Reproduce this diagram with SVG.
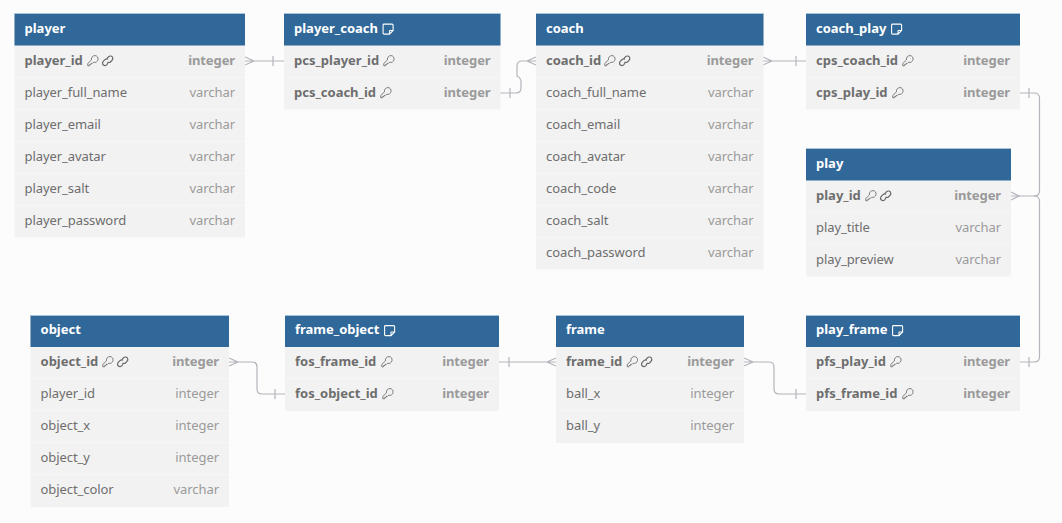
<svg xmlns="http://www.w3.org/2000/svg" xmlns:xlink="http://www.w3.org/1999/xlink" width="1062" height="523" viewBox="0 0 1062 523">
<style>
text{font-family:"Noto Sans","Open Sans","Liberation Sans",sans-serif;font-size:13px}
.body{fill:#f2f2f2}
.head{fill:#31689a}
.top{fill:none;stroke:#a9c2da;stroke-width:1}
.sep{stroke:#f6f6f6;stroke-width:1}
.title{fill:#fff;font-weight:700}
.pk{fill:#6e6e6e;font-weight:700}
.f{fill:#6e6e6e;letter-spacing:-.07px}
.tb{fill:#9a9a9a;font-weight:700;text-anchor:end;letter-spacing:-.1px}
.t{fill:#9a9a9a;text-anchor:end;letter-spacing:-.05px}
.c{fill:none;stroke:#b4b4bc;stroke-width:1.2}
.i{fill:none;stroke:#707070;stroke-width:.9}
.l{fill:none;stroke:#666;stroke-width:1.2}
.n{fill:none;stroke:#fff;stroke-width:1.1}
</style>
<defs>
<g id="key"><path class="i" d="M.8 10.8 L.8 8.4 L4.4 5 C4 2.2 6 .5 8 .6 C10.2 .7 11.4 2.6 11 4.6 C10.6 6.6 8.6 8 6.6 7.2 L5.4 8.4 L4 8.4 L4 9.6 L2.6 9.6 L2.4 10.8 Z"/></g>
<g id="link"><path class="l" d="M4.8 3.6 L6.4 1.8 C7.6 .6 9.6 .8 10.4 2 C11.2 3.2 10.8 4.6 10 5.4 L8.4 7 C7.4 7.8 6.2 7.6 5.6 6.8 M6 4.2 C5 3.6 3.8 3.8 3 4.6 L1.2 6.4 C.2 7.6 .4 9.2 1.4 10 C2.4 10.8 3.8 10.6 4.6 9.8 L6 8.2"/></g>
<g id="note"><path class="n" d="M1.5 .6 H9.5 Q10.6 .6 10.6 1.7 V7 L7 10.6 H1.7 Q.6 10.6 .6 9.5 V1.5 Q.6 .6 1.5 .6 Z M10.4 7 H7.6 Q7 7 7 7.6 V10.4"/></g>
</defs>
<rect width="1062" height="523" fill="#fcfcfc"/>
<g id="connectors">
<path class="c" d="M245 57 L254 61 L245 65 M245 61 H284 M273 56 V66"/>
<path class="c" d="M500 93 H516 Q521 93 521 88 V82 Q521 78 517 76 V66 Q517 61 522 61 H536 M510 88 V98 M536 57 L527 61 L536 65"/>
<path class="c" d="M763 57 L772 61 L763 65 M763 61 H806 M796 56 V66"/>
<path class="c" d="M1020 93 H1034 Q1039.500 93 1039.500 98 V191 Q1039.500 196 1034 196 H1011 M1029 88 V98"/>
<path class="c" d="M1011 192 L1019 196 L1011 200"/>
<path class="c" d="M1020 362 H1034 Q1039.500 362 1039.500 357 V201 Q1039.500 196 1034 196 M1029 357 V367"/>
<path class="c" d="M744 358 L753 362 L744 366 M744 362 H769 Q774 362 774 367 V389 Q774 394 779 394 H806 M796 389 V399"/>
<path class="c" d="M499 362 H556 M509 357 V367 M556 358 L547 362 L556 366"/>
<path class="c" d="M229 358 L238 362 L229 366 M229 362 H252 Q257 362 257 367 V389 Q257 394 262 394 H285 M275 389 V399"/>
</g>
<g id="player">
<rect class="body" x="14.500" y="13.500" width="230.500" height="224"/>
<rect class="head" x="14.500" y="13.500" width="230.500" height="32"/>
<path class="top" d="M14.500 13.500 H245"/>
<path class="sep" d="M14.500 77.500 H245 M14.500 109.500 H245 M14.500 141.500 H245 M14.500 173.500 H245 M14.500 205.500 H245"/>
<text class="title" x="24.500" y="33">player</text>
<text class="pk" x="24.500" y="65">player_id</text><use href="#key" x="87" y="55"/><use href="#link" x="102" y="55"/><text class="tb" x="235" y="65">integer</text>
<text class="f" x="24.500" y="97">player_full_name</text><text class="t" x="235" y="97">varchar</text>
<text class="f" x="24.500" y="129">player_email</text><text class="t" x="235" y="129">varchar</text>
<text class="f" x="24.500" y="161">player_avatar</text><text class="t" x="235" y="161">varchar</text>
<text class="f" x="24.500" y="193">player_salt</text><text class="t" x="235" y="193">varchar</text>
<text class="f" x="24.500" y="225">player_password</text><text class="t" x="235" y="225">varchar</text>
</g>
<g id="player_coach">
<rect class="body" x="284" y="13.500" width="216.500" height="96"/>
<rect class="head" x="284" y="13.500" width="216.500" height="32"/>
<path class="top" d="M284 13.500 H500.500"/>
<path class="sep" d="M284 77.500 H500.500"/>
<text class="title" x="294" y="33">player_coach</text><use href="#note" x="382.500" y="23.500"/>
<text class="pk" x="294" y="65">pcs_player_id</text><use href="#key" x="383" y="55"/><text class="tb" x="490.500" y="65">integer</text>
<text class="pk" x="294" y="97">pcs_coach_id</text><use href="#key" x="380" y="87"/><text class="tb" x="490.500" y="97">integer</text>
</g>
<g id="coach">
<rect class="body" x="536" y="13.500" width="227.500" height="256"/>
<rect class="head" x="536" y="13.500" width="227.500" height="32"/>
<path class="top" d="M536 13.500 H763.500"/>
<path class="sep" d="M536 77.500 H763.500 M536 109.500 H763.500 M536 141.500 H763.500 M536 173.500 H763.500 M536 205.500 H763.500 M536 237.500 H763.500"/>
<text class="title" x="546" y="33">coach</text>
<text class="pk" x="546" y="65">coach_id</text><use href="#key" x="604" y="55"/><use href="#link" x="619" y="55"/><text class="tb" x="753.500" y="65">integer</text>
<text class="f" x="546" y="97">coach_full_name</text><text class="t" x="753.500" y="97">varchar</text>
<text class="f" x="546" y="129">coach_email</text><text class="t" x="753.500" y="129">varchar</text>
<text class="f" x="546" y="161">coach_avatar</text><text class="t" x="753.500" y="161">varchar</text>
<text class="f" x="546" y="193">coach_code</text><text class="t" x="753.500" y="193">varchar</text>
<text class="f" x="546" y="225">coach_salt</text><text class="t" x="753.500" y="225">varchar</text>
<text class="f" x="546" y="257">coach_password</text><text class="t" x="753.500" y="257">varchar</text>
</g>
<g id="coach_play">
<rect class="body" x="806" y="13.500" width="214" height="96"/>
<rect class="head" x="806" y="13.500" width="214" height="32"/>
<path class="top" d="M806 13.500 H1020"/>
<path class="sep" d="M806 77.500 H1020"/>
<text class="title" x="816" y="33">coach_play</text><use href="#note" x="891" y="23.500"/>
<text class="pk" x="816" y="65">cps_coach_id</text><use href="#key" x="902" y="55"/><text class="tb" x="1010" y="65">integer</text>
<text class="pk" x="816" y="97">cps_play_id</text><use href="#key" x="892" y="87"/><text class="tb" x="1010" y="97">integer</text>
</g>
<g id="play">
<rect class="body" x="806" y="148.500" width="205" height="128"/>
<rect class="head" x="806" y="148.500" width="205" height="32"/>
<path class="top" d="M806 148.500 H1011"/>
<path class="sep" d="M806 212.500 H1011 M806 244.500 H1011"/>
<text class="title" x="816" y="168">play</text>
<text class="pk" x="816" y="200">play_id</text><use href="#key" x="865" y="190"/><use href="#link" x="880" y="190"/><text class="tb" x="1001" y="200">integer</text>
<text class="f" x="816" y="232">play_title</text><text class="t" x="1001" y="232">varchar</text>
<text class="f" x="816" y="264">play_preview</text><text class="t" x="1001" y="264">varchar</text>
</g>
<g id="object">
<rect class="body" x="30.500" y="315" width="198.500" height="192"/>
<rect class="head" x="30.500" y="315" width="198.500" height="32"/>
<path class="top" d="M30.500 315.500 H229"/>
<path class="sep" d="M30.500 378.500 H229 M30.500 410.500 H229 M30.500 442.500 H229 M30.500 474.500 H229"/>
<text class="title" x="40.500" y="334">object</text>
<text class="pk" x="40.500" y="366">object_id</text><use href="#key" x="102" y="356"/><use href="#link" x="117" y="356"/><text class="tb" x="219" y="366">integer</text>
<text class="f" x="40.500" y="398">player_id</text><text class="t" x="219" y="398">integer</text>
<text class="f" x="40.500" y="430">object_x</text><text class="t" x="219" y="430">integer</text>
<text class="f" x="40.500" y="462">object_y</text><text class="t" x="219" y="462">integer</text>
<text class="f" x="40.500" y="494">object_color</text><text class="t" x="219" y="494">varchar</text>
</g>
<g id="frame_object">
<rect class="body" x="285" y="315" width="214" height="96"/>
<rect class="head" x="285" y="315" width="214" height="32"/>
<path class="top" d="M285 315.500 H499"/>
<path class="sep" d="M285 378.500 H499"/>
<text class="title" x="295" y="334">frame_object</text><use href="#note" x="384" y="325"/>
<text class="pk" x="295" y="366">fos_frame_id</text><use href="#key" x="381" y="356"/><text class="tb" x="489" y="366">integer</text>
<text class="pk" x="295" y="398">fos_object_id</text><use href="#key" x="382" y="388"/><text class="tb" x="489" y="398">integer</text>
</g>
<g id="frame">
<rect class="body" x="556" y="315" width="188" height="128"/>
<rect class="head" x="556" y="315" width="188" height="32"/>
<path class="top" d="M556 315.500 H744"/>
<path class="sep" d="M556 378.500 H744 M556 410.500 H744"/>
<text class="title" x="566" y="334">frame</text>
<text class="pk" x="566" y="366">frame_id</text><use href="#key" x="626.500" y="356"/><use href="#link" x="641" y="356"/><text class="tb" x="734" y="366">integer</text>
<text class="f" x="566" y="398">ball_x</text><text class="t" x="734" y="398">integer</text>
<text class="f" x="566" y="430">ball_y</text><text class="t" x="734" y="430">integer</text>
</g>
<g id="play_frame">
<rect class="body" x="806" y="315" width="214" height="96"/>
<rect class="head" x="806" y="315" width="214" height="32"/>
<path class="top" d="M806 315.500 H1020"/>
<path class="sep" d="M806 378.500 H1020"/>
<text class="title" x="816" y="334">play_frame</text><use href="#note" x="892" y="325"/>
<text class="pk" x="816" y="366">pfs_play_id</text><use href="#key" x="890" y="356"/><text class="tb" x="1010" y="366">integer</text>
<text class="pk" x="816" y="398">pfs_frame_id</text><use href="#key" x="902" y="388"/><text class="tb" x="1010" y="398">integer</text>
</g>
</svg>
